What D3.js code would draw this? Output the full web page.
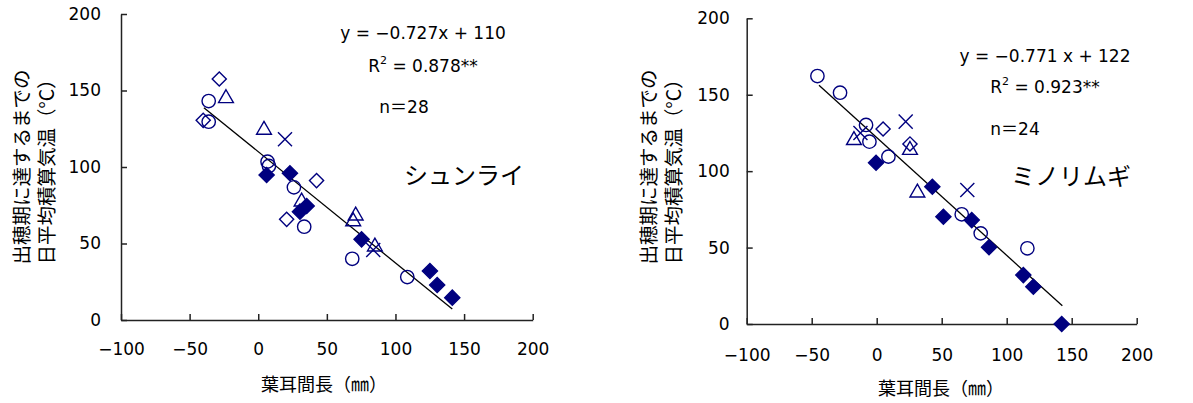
<!DOCTYPE html>
<html><head><meta charset="utf-8">
<script src="https://cdn.jsdelivr.net/npm/d3@7"></script>
<style>
body{margin:0;background:#fff;}
text{font-family:"DejaVu Sans","Noto Sans CJK JP",sans-serif;fill:#000;}
.jp{font-family:"Noto Sans CJK JP",sans-serif;}
</style></head>
<body><svg id="c" width="1193" height="403"></svg>
<script>
// ---- data: シュンライ (left) ----
const leftOpenDiamondX = [-28.4, -40.1, 42.5, 20.7];
const leftOpenDiamondY = [157.5, 130.5, 91.1, 65.8];
const leftCircleX = [-36.1, -36.1, 6.8, 7.8, 26.0, 33.5, 68.5, 108.6];
const leftCircleY = [143.1, 129.6, 103.5, 100.7, 86.7, 61.0, 40.0, 28.1];
const leftTriangleX = [-23.5, 4.2, 31.6, 71.0, 69.2, 85.0];
const leftTriangleY = [144.9, 124.2, 77.3, 68.2, 64.4, 47.9];
const leftCrossX = [19.5, 83.8];
const leftCrossY = [118.1, 45.8];
const leftFilledX = [6.1, 23.1, 30.4, 35.3, 75.3, 125.1, 130.4, 141.4];
const leftFilledY = [94.8, 95.9, 70.8, 74.5, 52.7, 32.0, 22.9, 14.6];
const leftSlope = -0.727, leftIntercept = 110, leftFitRange = [-39.6, 141.4];
// ---- data: ミノリムギ (right) ----
const rightOpenDiamondX = [4.9, 25.6];
const rightOpenDiamondY = [127.6, 117.8];
const rightCircleX = [-45.6, -28.2, -8.2, -5.6, 9.0, 65.4, 80.0, 115.9];
const rightCircleY = [162.2, 151.3, 130.2, 119.3, 109.5, 71.8, 59.3, 49.5];
const rightTriangleX = [-17.5, 25.6, 31.3];
const rightTriangleY = [120.2, 113.8, 85.9];
const rightCrossX = [-12.5, 22.3, 69.7];
const rightCrossY = [125.0, 132.4, 87.7];
const rightFilledX = [-0.5, 42.8, 51.3, 73.1, 86.4, 112.8, 120.5, 142.3];
const rightFilledY = [105.5, 89.8, 70.2, 68.0, 50.2, 32.0, 24.4, 0.0];
const rightSlope = -0.771, rightIntercept = 122, rightFitRange = [-44.4, 142.8];
// ---- ticks/labels ----
const xTicks = [-100, -50, 0, 50, 100, 150, 200];
const yTicks = [0, 50, 100, 150, 200];
const yTitle1 = "出穂期に達するまでの";
const yTitle2 = "日平均積算気温（°C）";
const xTitle = "葉耳間長（㎜）";

const svg = d3.select("#c");
const navy = "#00007f";

function zip(xs, ys){ return xs.map((x,i)=>[x, ys[i]]); }

function panel(cfg){
  const x = d3.scaleLinear().domain([-100,200]).range(cfg.xr);
  const y = d3.scaleLinear().domain([0,200]).range(cfg.yr);
  const g = svg.append("g");
  const fmt = d3.format("");
  const ax = g.append("g").attr("transform",`translate(0,${cfg.yr[0]})`)
    .call(d3.axisBottom(x).tickValues(xTicks).tickFormat(fmt).tickSizeInner(-6).tickSizeOuter(0).tickPadding(cfg.xpad));
  const ay = g.append("g").attr("transform",`translate(${cfg.xr[0]},0)`)
    .call(d3.axisLeft(y).tickValues(yTicks).tickFormat(fmt).tickSizeInner(-6).tickSizeOuter(0).tickPadding(cfg.ypad));
  [ax, ay].forEach(a=>{
    a.selectAll("path,line").attr("stroke","#222").attr("stroke-width",1.5);
    a.selectAll("text").attr("font-size",17).attr("font-family","DejaVu Sans, sans-serif").attr("fill","#000");
  });
  // fit line
  g.append("line")
    .attr("x1", x(cfg.fr[0])).attr("y1", y(cfg.slope*cfg.fr[0]+cfg.icpt))
    .attr("x2", x(cfg.fr[1])).attr("y2", y(cfg.slope*cfg.fr[1]+cfg.icpt))
    .attr("stroke","#000").attr("stroke-width",1.3);
  const sym = (type,size)=>d3.symbol().type(type).size(size)();
  const draw = (pts, type, size, filled, rot) => {
    g.append("g").selectAll("path").data(pts).join("path")
      .attr("d", sym(type,size))
      .attr("transform", d=>`translate(${x(d[0])},${y(d[1])})${rot?` rotate(${rot})`:""}`)
      .attr("fill", filled?navy:"none")
      .attr("stroke", navy).attr("stroke-width", 1.4);
  };
  draw(cfg.diamond, d3.symbolSquare, 100, false, 45);
  draw(cfg.circle, d3.symbolCircle, 140, false, 0);
  draw(cfg.tri, d3.symbolTriangle, 95, false, 0);
  draw(cfg.cross, d3.symbolTimes, 130, false, 0);
  draw(cfg.filled, d3.symbolSquare, 115, true, 45);
  // titles
  const t = g.append("g").attr("transform",`translate(${cfg.ytx},${cfg.yty}) rotate(-90)`);
  t.append("text").attr("class","jp").attr("x",0).attr("y",0).attr("text-anchor","middle").attr("font-size",19.5).text(yTitle1);
  t.append("text").attr("class","jp").attr("x",0).attr("y",25).attr("text-anchor","middle").attr("font-size",19.5).text(yTitle2);
  g.append("text").attr("class","jp").attr("x",cfg.xtx).attr("y",cfg.xty).attr("text-anchor","middle").attr("font-size",18).text(xTitle);
  // annotations
  g.append("text").attr("x",cfg.eq[0]).attr("y",cfg.eq[1]).attr("font-size",17).attr("text-anchor","middle").text(cfg.eqText);
  const r2 = g.append("text").attr("x",cfg.r2[0]).attr("y",cfg.r2[1]).attr("font-size",17).attr("text-anchor","middle");
  r2.append("tspan").text("R");
  r2.append("tspan").attr("font-size",11).attr("dy",-8).text("2");
  r2.append("tspan").attr("dy",8).text(" = " + cfg.r2Text);
  g.append("text").attr("x",cfg.n[0]).attr("y",cfg.n[1]).attr("font-size",17).attr("text-anchor","middle").text(cfg.nText);
  g.append("text").attr("class","jp").attr("x",cfg.name[0]).attr("y",cfg.name[1]).attr("font-size",24).attr("text-anchor","middle").text(cfg.nameText);
}

panel({xr:[121,532.7], yr:[320,14], xpad:23, ypad:20,
  diamond: zip(leftOpenDiamondX,leftOpenDiamondY), circle: zip(leftCircleX,leftCircleY),
  tri: zip(leftTriangleX,leftTriangleY), cross: zip(leftCrossX,leftCrossY), filled: zip(leftFilledX,leftFilledY),
  slope:leftSlope, icpt:leftIntercept, fr:leftFitRange,
  ytx:29, yty:167, xtx:324, xty:391,
  eq:[423,39], eqText:"y = −0.727x + 110",
  r2:[423,72], r2Text:"0.878**",
  n:[404,113], nText:"n＝28",
  name:[464,184], nameText:"シュンライ"});

panel({xr:[746.7,1136.7], yr:[324,18.3], xpad:25, ypad:17,
  diamond: zip(rightOpenDiamondX,rightOpenDiamondY), circle: zip(rightCircleX,rightCircleY),
  tri: zip(rightTriangleX,rightTriangleY), cross: zip(rightCrossX,rightCrossY), filled: zip(rightFilledX,rightFilledY),
  slope:rightSlope, icpt:rightIntercept, fr:rightFitRange,
  ytx:656, yty:167, xtx:941, xty:395,
  eq:[1045,62], eqText:"y = −0.771 x + 122",
  r2:[1045,93], r2Text:"0.923**",
  n:[1015,135], nText:"n＝24",
  name:[1071,185], nameText:"ミノリムギ"});
</script></body></html>
